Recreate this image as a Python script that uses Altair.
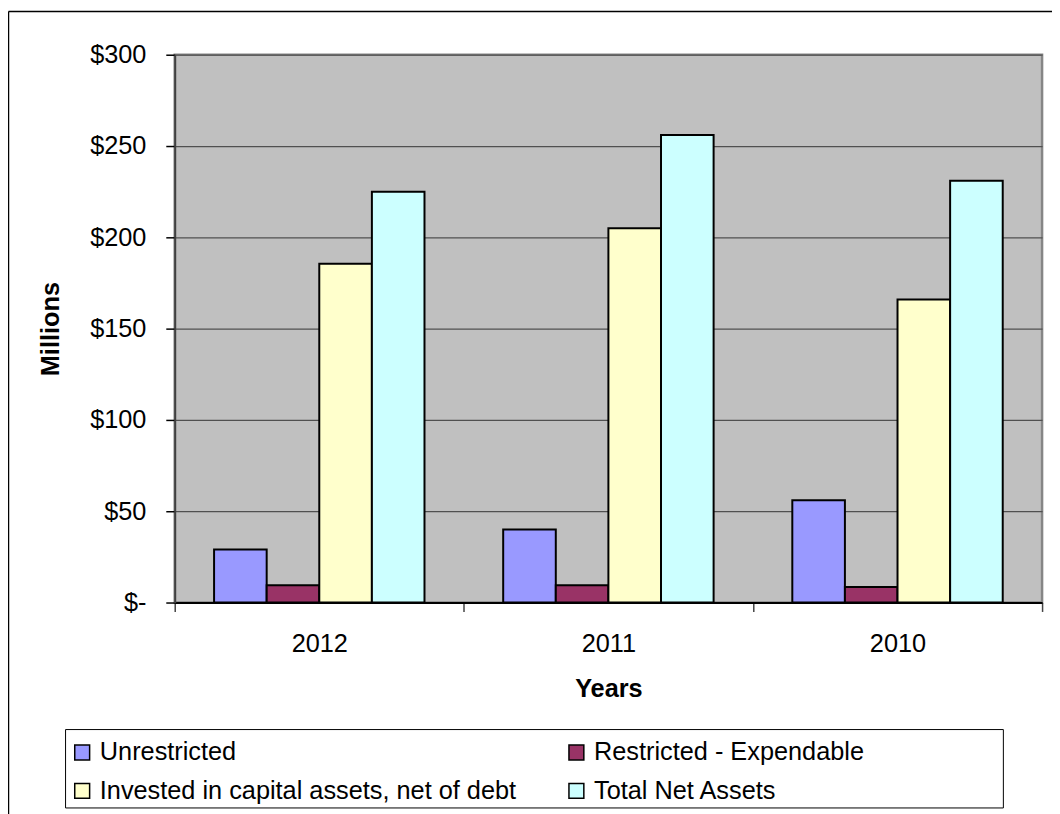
import altair as alt
import pandas as pd

years = ["2012", "2011", "2010"]
series = ["Unrestricted", "Restricted - Expendable",
          "Invested in capital assets, net of debt", "Total Net Assets"]
unrestricted = [29, 40, 56]
restricted = [9.5, 9.5, 8.5]
invested = [185.5, 205, 166]
total = [225, 256, 231]
colors = ["#9999FF", "#993366", "#FFFFCC", "#CCFFFF"]
y_ticks = [0, 50, 100, 150, 200, 250, 300]

rows = []
for i, yr in enumerate(years):
    for s, vals in zip(series, [unrestricted, restricted, invested, total]):
        rows.append({"Year": yr, "Series": s, "Value": vals[i]})
df = pd.DataFrame(rows)

FONT = "Liberation Sans"
FS = 25.5

bars = alt.Chart(df).mark_bar(stroke="black", strokeWidth=2).encode(
    x=alt.X("Year:N", sort=years,
            scale=alt.Scale(paddingInner=0, paddingOuter=0),
            axis=alt.Axis(title="Years", labelAngle=0, grid=False,
                          tickBand="extent", tickSize=9, tickWidth=1.5,
                          tickColor="#444444", domainColor="black",
                          domainWidth=2, labelPadding=20, titlePadding=20,
                          labelFontSize=FS, titleFontSize=FS,
                          labelColor="black", titleColor="black",
                          titleFontWeight="bold")),
    xOffset=alt.XOffset("Series:N", sort=series,
                        scale=alt.Scale(paddingInner=0, paddingOuter=0.748)),
    y=alt.Y("Value:Q",
            scale=alt.Scale(domain=[0, 300], nice=False),
            axis=alt.Axis(title="Millions", values=y_ticks,
                          labelExpr="datum.value == 0 ? '$-' : '$' + datum.value",
                          grid=True, gridColor="#505050", gridWidth=1.3,
                          tickSize=9, tickWidth=1.5, tickColor="black",
                          domainColor="#404040", domainWidth=2,
                          labelPadding=20, titlePadding=26,
                          labelFontSize=FS, titleFontSize=FS,
                          labelColor="black", titleColor="black",
                          titleFontWeight="bold")),
    color=alt.Color("Series:N", sort=series,
                    scale=alt.Scale(domain=series, range=colors),
                    legend=alt.Legend(title=None, orient="none",
                                      direction="horizontal",
                                      legendX=-106, legendY=690,
                                      columns=2, columnPadding=47,
                                      rowPadding=12, padding=0,
                                      symbolType="square", symbolSize=225,
                                      symbolStrokeColor="black",
                                      symbolStrokeWidth=1.5,
                                      labelFontSize=FS, labelOffset=5,
                                      labelColor="black", labelLimit=800,
                                      gridAlign="all")),
)

one = alt.Data(values=[{"k": 1}])

legend_box = alt.Chart(one).mark_rect(fill=None, stroke="black", strokeWidth=1).encode(
    x=alt.value(-110), x2=alt.value(835), y=alt.value(680), y2=alt.value(759))

frame_left = alt.Chart(one).mark_rule(color="black", strokeWidth=1.5).encode(
    x=alt.value(-167.5), y=alt.value(-43.5), y2=alt.value(770))
frame_top = alt.Chart(one).mark_rule(color="black", strokeWidth=1.5).encode(
    x=alt.value(-167.5), x2=alt.value(900), y=alt.value(-43.5))

chart = alt.layer(bars, legend_box, frame_left, frame_top).properties(
    width=874, height=552,
    autosize=alt.AutoSizeParams(type="none"),
    padding={"left": 168, "top": 44, "right": 10, "bottom": 210},
    background="white",
).configure(font=FONT).configure_view(
    fill="#C0C0C0", stroke="#868686", strokeWidth=2.5
)

chart.save("out.html", embed_options={"renderer": "svg", "actions": False})
